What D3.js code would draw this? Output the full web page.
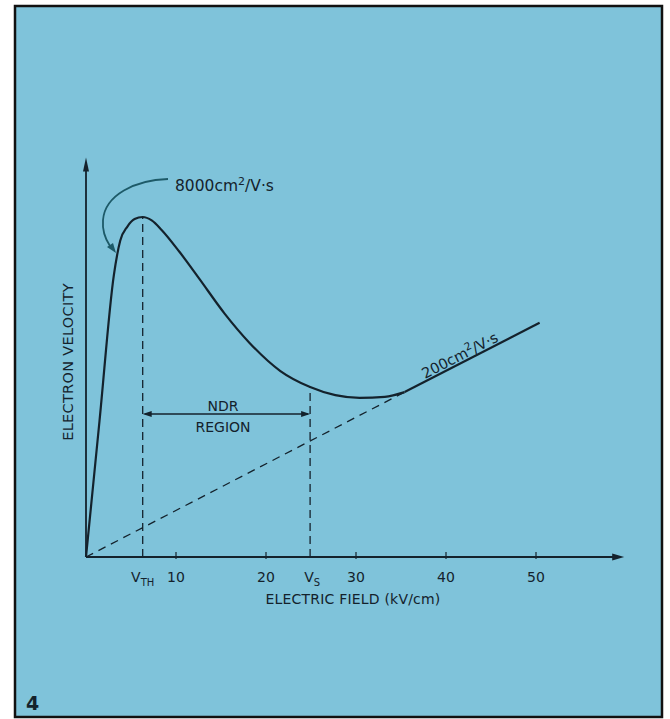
<!DOCTYPE html>
<html><head><meta charset="utf-8">
<script src="https://cdn.jsdelivr.net/npm/d3@7"></script>
<style>
html,body{margin:0;padding:0;background:#fff;}
svg text{font-family:"DejaVu Sans",sans-serif;fill:#14222c;}
</style></head><body>
<svg id="c" width="670" height="719"></svg>
<script>
// ---- data ----
const xTicks = [10, 20, 30, 40, 50];
const xTickLabels = ["10", "20", "30", "40", "50"];
const vth = 6.3;   // threshold field (kV/cm)
const vs = 24.9;   // saturation field (kV/cm)
// velocity curve (field kV/cm, normalized velocity: peak = 1)
const curveField = [0, 1.5, 3.1, 3.8, 4.6, 5.4, 6.3, 7.3, 8.4, 10.4, 12.6, 15.4, 18.2, 21.6, 24.9, 27.7, 30.4, 33.2, 35.4];
const curveVel   = [0, 0.40, 0.83, 0.93, 0.972, 0.994, 1.0, 0.99, 0.962, 0.897, 0.818, 0.716, 0.629, 0.547, 0.50, 0.476, 0.468, 0.471, 0.485];
// high-field line (200 cm2/V·s)
const lineField = [35.4, 50.4];
const lineVel = [0.485, 0.689];
// dashed extrapolation
const dashField = [0, 35.4];
const dashVel = [0, 0.485];

const svg = d3.select("#c");
// panel
svg.append("rect").attr("x", 15).attr("y", 6).attr("width", 647).attr("height", 711)
  .attr("fill", "#7fc3da").attr("stroke", "#111").attr("stroke-width", 2.5);

const x = d3.scaleLinear().domain([0, 10]).range([86, 176]);
const y = d3.scaleLinear().domain([0, 1]).range([557, 217]);
const ink = "#14222c";

// axes
const xAxisG = svg.append("g").attr("transform", `translate(0,${y(0)})`);
xAxisG.append("line").attr("x1", x(0)).attr("x2", x(59.2)).attr("stroke", ink).attr("stroke-width", 1.8);
xAxisG.append("path").attr("d", `M${x(59.8)},0 l-12,-3.5 l0,7 z`).attr("fill", ink);
xAxisG.selectAll(".tk").data(xTicks).enter().append("line")
  .attr("x1", d => x(d)).attr("x2", d => x(d)).attr("y1", -5).attr("y2", 2)
  .attr("stroke", ink).attr("stroke-width", 1.2);
xAxisG.selectAll(".tl").data(xTicks).enter().append("text")
  .attr("x", d => x(d)).attr("y", 25).attr("text-anchor", "middle").attr("font-size", 14)
  .text((d, i) => xTickLabels[i]);

// y axis
svg.append("line").attr("x1", x(0)).attr("x2", x(0)).attr("y1", y(0)).attr("y2", y(1.14))
  .attr("stroke", ink).attr("stroke-width", 1.8);
svg.append("path").attr("d", `M${x(0)},${y(1.175)} l-3,14 l6,0 z`).attr("fill", ink);

// V labels
const vl = svg.append("text").attr("x", x(vth)).attr("y", y(0) + 25).attr("text-anchor", "middle").attr("font-size", 14);
vl.append("tspan").text("V");
vl.append("tspan").attr("dy", 4).attr("font-size", 10).text("TH");
const vsl = svg.append("text").attr("x", x(vs) + 2).attr("y", y(0) + 25).attr("text-anchor", "middle").attr("font-size", 14);
vsl.append("tspan").text("V");
vsl.append("tspan").attr("dy", 4).attr("font-size", 10).text("S");

// axis titles
svg.append("text").attr("x", 353).attr("y", 604).attr("text-anchor", "middle").attr("font-size", 14)
  .attr("letter-spacing", 0.2).text("ELECTRIC  FIELD (kV/cm)");
svg.append("text").attr("transform", "translate(73,362) rotate(-90)").attr("text-anchor", "middle")
  .attr("font-size", 14.5).attr("letter-spacing", 0.3).text("ELECTRON  VELOCITY");

// dashed lines
svg.append("line").attr("x1", x(vth)).attr("x2", x(vth)).attr("y1", y(0)).attr("y2", y(1))
  .attr("stroke", ink).attr("stroke-width", 1.3).attr("stroke-dasharray", "8,5");
const vsV = curveVel[curveField.indexOf(24.9)];
svg.append("line").attr("x1", x(vs)).attr("x2", x(vs)).attr("y1", y(0)).attr("y2", y(vsV))
  .attr("stroke", ink).attr("stroke-width", 1.3).attr("stroke-dasharray", "8,5");
svg.append("line").attr("x1", x(dashField[0])).attr("y1", y(dashVel[0])).attr("x2", x(dashField[1])).attr("y2", y(dashVel[1]))
  .attr("stroke", ink).attr("stroke-width", 1.3).attr("stroke-dasharray", "8,6");

// curve
const pts = curveField.map((f, i) => [f, curveVel[i]]);
svg.append("path").datum(pts)
  .attr("d", d3.line().x(d => x(d[0])).y(d => y(d[1])).curve(d3.curveMonotoneX))
  .attr("fill", "none").attr("stroke", ink).attr("stroke-width", 2.2);
svg.append("line").attr("x1", x(lineField[0])).attr("y1", y(lineVel[0])).attr("x2", x(lineField[1])).attr("y2", y(lineVel[1]))
  .attr("stroke", ink).attr("stroke-width", 2.2);

// NDR arrow
const ndrY = 414;
svg.append("line").attr("x1", x(vth) + 2).attr("x2", x(vs) - 2).attr("y1", ndrY).attr("y2", ndrY)
  .attr("stroke", ink).attr("stroke-width", 1.4);
svg.append("path").attr("d", `M${x(vth)},${ndrY} l9,-3 l0,6 z`).attr("fill", ink);
svg.append("path").attr("d", `M${x(vs)},${ndrY} l-9,-3 l0,6 z`).attr("fill", ink);
svg.append("text").attr("x", 223).attr("y", 411).attr("text-anchor", "middle").attr("font-size", 14).text("NDR");
svg.append("text").attr("x", 223).attr("y", 432).attr("text-anchor", "middle").attr("font-size", 14).text("REGION");

// 8000 label with curved arrow
const t1 = svg.append("text").attr("x", 175).attr("y", 191).attr("font-size", 15.5);
t1.append("tspan").text("8000cm");
t1.append("tspan").attr("dy", -6).attr("font-size", 11).text("2");
t1.append("tspan").attr("dy", 6).text("/V·s");
svg.append("path").attr("d", "M168,179 C135,180 105,195 103,220 C102,232 106,240 110,246")
  .attr("fill", "none").attr("stroke", "#1d5a68").attr("stroke-width", 1.8);
svg.append("path").attr("d", "M116,253 l-9,-6 l6,-4 z").attr("fill", "#1d5a68");

// 200 label along line
const ang = Math.atan2(y(lineVel[1]) - y(lineVel[0]), x(lineField[1]) - x(lineField[0])) * 180 / Math.PI;
const t2 = svg.append("text").attr("transform", `translate(425,379) rotate(${ang})`).attr("font-size", 14.5);
t2.append("tspan").text("200cm");
t2.append("tspan").attr("dy", -6).attr("font-size", 10.5).text("2");
t2.append("tspan").attr("dy", 6).text("/V·s");

// figure number
svg.append("text").attr("x", 26).attr("y", 710).attr("font-size", 19).attr("font-weight", "bold").text("4");
</script></body></html>
